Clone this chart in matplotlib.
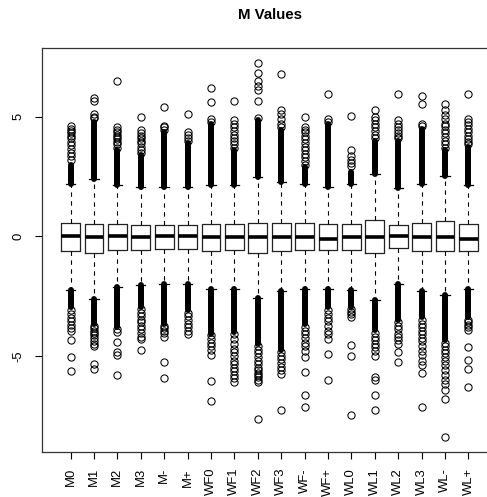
import matplotlib
matplotlib.use("Agg")
import matplotlib.pyplot as plt

labels = ["M0", "M1", "M2", "M3", "M-", "M+", "WF0", "WF1", "WF2", "WF3",
          "WF-", "WF+", "WL0", "WL1", "WL2", "WL3", "WL-", "WL+"]
q1 = [-0.60, -0.72, -0.56, -0.57, -0.53, -0.53, -0.61, -0.56, -0.70, -0.61,
      -0.58, -0.58, -0.56, -0.70, -0.51, -0.61, -0.61, -0.61]
med = [0.0, -0.05, 0.0, -0.03, 0.0, 0.0, -0.05, -0.03, -0.05, -0.05,
       -0.05, -0.13, -0.03, -0.03, 0.01, -0.05, -0.03, -0.13]
q3 = [0.57, 0.53, 0.53, 0.49, 0.49, 0.49, 0.53, 0.53, 0.56, 0.56,
      0.56, 0.53, 0.53, 0.67, 0.49, 0.56, 0.64, 0.50]
whislo = [-2.23, -2.61, -2.12, -2.05, -2.01, -2.01, -2.19, -2.19, -2.57, -2.29,
          -2.19, -2.19, -2.23, -2.68, -1.98, -2.29, -2.47, -2.19]
whishi = [2.20, 2.41, 2.13, 2.06, 2.06, 2.06, 2.13, 2.13, 2.48, 2.27,
          2.18, 2.06, 2.18, 2.62, 2.00, 2.18, 2.51, 2.13]
# extent of the solid (densely overplotted) outlier columns
solid_hi = [3.0, 4.8, 3.6, 3.4, 4.36, 3.9, 4.7, 3.6, 4.85, 4.43,
            2.9, 4.71, 2.7, 4.0, 4.0, 4.5, 3.6, 3.74]
solid_lo = [-2.96, -3.65, -3.8, -2.96, -3.65, -3.1, -4.07, -4.0, -4.49, -4.77,
            -3.65, -2.96, -2.96, -3.93, -3.51, -3.38, -4.35, -3.38]
out_hi = [
    [3.2, 3.35, 3.5, 3.65, 3.8, 3.95, 4.1, 4.2, 4.3, 4.4, 4.5, 4.6],
    [4.95, 5.0, 5.1, 5.65, 5.8],
    [3.7, 3.85, 3.95, 4.05, 4.15, 4.25, 4.35, 4.45, 4.55, 6.5],
    [3.5, 3.6, 3.75, 3.9, 4.0, 4.1, 4.2, 4.3, 4.43, 5.0],
    [4.45, 4.55, 4.62, 5.41],
    [4.0, 4.1, 4.23, 4.35, 5.13],
    [4.8, 4.9, 5.6, 6.2],
    [3.7, 3.85, 4.0, 4.1, 4.25, 4.4, 4.55, 4.7, 4.85, 5.65],
    [4.95, 5.65, 6.1, 6.3, 6.5, 6.85, 7.25],
    [4.55, 4.71, 4.9, 5.13, 5.27, 6.77],
    [3.0, 3.15, 3.3, 3.45, 3.6, 3.75, 3.9, 4.05, 4.2, 4.35, 4.45, 4.57, 4.99],
    [4.8, 4.9, 5.94],
    [2.95, 3.05, 3.2, 3.35, 3.6, 5.02],
    [4.1, 4.25, 4.4, 4.55, 4.7, 4.85, 5.0, 5.27],
    [4.1, 4.2, 4.3, 4.43, 4.55, 4.7, 4.85, 5.94],
    [4.6, 4.7, 5.55, 5.86],
    [3.7, 3.85, 4.0, 4.15, 4.3, 4.45, 4.6, 4.71, 4.9, 5.06, 5.3, 5.55],
    [3.85, 3.95, 4.05, 4.2, 4.35, 4.5, 4.65, 4.8, 4.92, 5.94],
]
out_lo = [
    [-3.1, -3.25, -3.4, -3.55, -3.7, -3.85, -3.95, -4.35, -5.05, -5.63],
    [-3.75, -3.85, -3.95, -4.05, -4.15, -4.25, -4.4, -4.5, -4.6, -5.33, -5.54],
    [-3.9, -4.0, -4.42, -4.84, -4.98, -5.82],
    [-3.05, -3.2, -3.35, -3.5, -3.6, -3.75, -3.9, -4.05, -4.2, -4.3, -4.77],
    [-3.75, -3.85, -3.95, -4.05, -4.21, -5.26, -5.91],
    [-3.2, -3.35, -3.5, -3.65, -3.8, -3.95, -4.07],
    [-4.15, -4.3, -4.45, -4.6, -4.75, -4.98, -6.05, -6.9],
    [-4.1, -4.3, -4.5, -4.7, -4.85, -5.0, -5.2, -5.35, -5.5, -5.65, -5.8, -5.95, -6.1],
    [-4.6, -4.75, -4.9, -5.05, -5.2, -5.35, -5.5, -5.6, -5.7, -5.8, -5.9, -6.0, -6.1, -7.63],
    [-4.85, -5.0, -5.15, -5.3, -5.45, -5.6, -5.75, -7.28],
    [-3.8, -3.95, -4.1, -4.25, -4.45, -4.6, -4.8, -5.05, -5.68, -6.65, -7.14],
    [-3.1, -3.25, -3.4, -3.55, -3.75, -3.95, -4.1, -4.28, -4.91, -6.03],
    [-3.05, -3.15, -3.25, -3.38, -4.56, -5.02, -7.49],
    [-4.05, -4.2, -4.35, -4.5, -4.65, -4.8, -5.0, -5.89, -6.03, -6.65, -7.28],
    [-3.6, -3.75, -3.9, -4.07, -4.2, -4.35, -4.49, -4.84, -5.26],
    [-3.5, -3.65, -3.8, -3.95, -4.1, -4.25, -4.4, -4.6, -4.8, -4.95, -5.2, -5.4, -5.7, -7.14],
    [-4.45, -4.6, -4.75, -4.9, -5.05, -5.2, -5.4, -5.6, -5.8, -6.0, -6.2, -6.44, -6.79, -8.4],
    [-3.5, -3.6, -3.7, -3.8, -3.93, -4.63, -5.19, -5.54, -6.31],
]
yticks = [-5, 0, 5]
title = "M Values"

plt.rcParams['font.family'] = ['Liberation Sans', 'DejaVu Sans']

W, H = 487, 497
fig = plt.figure(figsize=(W / 100, H / 100), dpi=100)
ax = fig.add_axes([42 / W, (H - 452) / H, 455 / W, 404 / H])

positions = list(range(1, len(labels) + 1))
stats = []
for i in range(len(labels)):
    stats.append(dict(med=med[i], q1=q1[i], q3=q3[i], whislo=whislo[i],
                      whishi=whishi[i], fliers=out_hi[i] + out_lo[i]))

ax.bxp(stats, positions=positions, widths=0.8, capwidths=0.4, showfliers=True,
       boxprops=dict(color='#222222', linewidth=0.9),
       medianprops=dict(color='black', linewidth=2.6, solid_capstyle='butt'),
       whiskerprops=dict(color='black', linewidth=0.8, linestyle=(0, (4, 4))),
       capprops=dict(color='black', linewidth=0.9),
       flierprops=dict(marker='o', markerfacecolor='none', markeredgecolor='black',
                       markersize=5.2, markeredgewidth=0.75, linestyle='none'))

lc1 = ax.vlines(positions, whishi, solid_hi, colors='black', linewidth=4.3, zorder=3)
lc2 = ax.vlines(positions, whislo, solid_lo, colors='black', linewidth=4.3, zorder=3)
lc1.set_capstyle('round')
lc2.set_capstyle('round')

allvals = [v for lst in out_hi + out_lo for v in lst]
lo, hi = min(allvals), max(allvals)
pad = 0.04 * (hi - lo)
ax.set_ylim(lo - pad, hi + pad)
n = len(labels)
xpad = 0.04 * n
ax.set_xlim(0.5 - xpad, n + 0.5 + xpad)

ax.set_xticks(positions)
ax.set_xticklabels(labels, rotation=90, fontsize=9.4)
ax.set_yticks(yticks)
ax.set_yticklabels([str(t) for t in yticks], rotation=90, fontsize=9.4, va='center')
ax.tick_params(axis='both', direction='out', length=5, width=0.8, color='black')
ax.tick_params(axis='x', pad=6.5)
ax.tick_params(axis='y', pad=7.5)
for s in ax.spines.values():
    s.set_linewidth(0.9)
    s.set_color('#333333')

fig.text((42 + 497) / 2 / W, 1 - 15 / H, title, ha='center', va='center',
         fontsize=10.8, fontweight='bold')

fig.savefig("out.png", dpi=100)
